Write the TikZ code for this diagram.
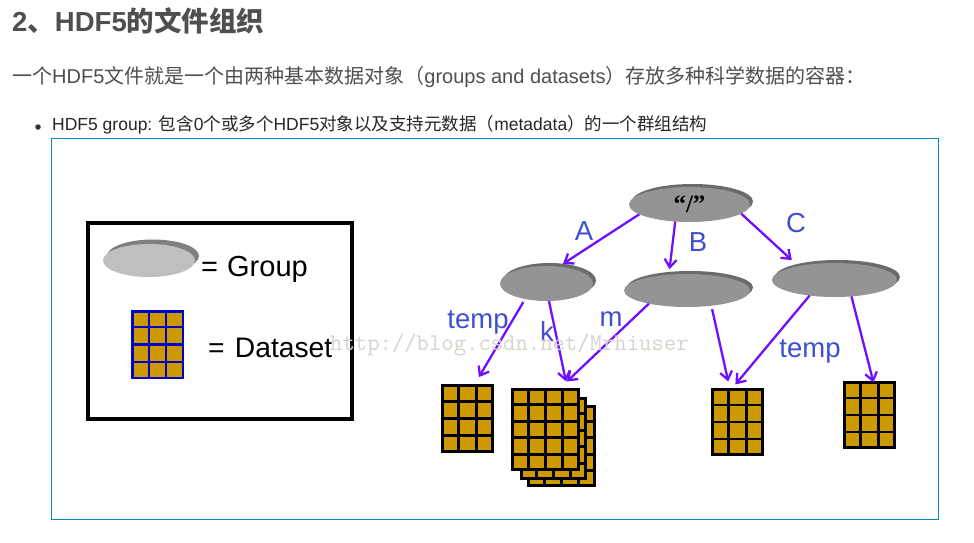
\documentclass[tikz,border=0pt]{standalone}
\usepackage{fontspec}
\setmainfont{Liberation Sans}
\newfontfamily\zhf{Noto Sans CJK SC}
\usetikzlibrary{arrows.meta,shapes.geometric}
\definecolor{gold}{HTML}{CC9900}
\definecolor{arrowviolet}{HTML}{7010FF}
\definecolor{labelblue}{HTML}{3F4FCF}
\definecolor{framecol}{HTML}{0A86C8}
\definecolor{headcol}{HTML}{4F4F4F}
\definecolor{wmark}{HTML}{D4D4CC}
\newcommand{\fsz}[1]{\fontsize{#1}{#1}\selectfont}
\tikzset{
  grp/.style={ellipse,inner sep=0pt,outer sep=0pt,fill=#1},
  arr/.style={draw=arrowviolet,line width=2.3pt,-{Straight Barb[length=8pt,width=12pt,line width=2.3pt]}},
  lab/.style={text=labelblue,inner sep=0pt,font=\fsz{27.5}},
  legtxt/.style={text=black,inner sep=0pt,anchor=base west},
}
% \groupnode{name}{cx}{cy}{rx}{ry}{front}{back}{dx}{dy}{text}
\newcommand{\groupnode}[9]{%
  \fill[#7] (#2+#8,#3-#9) ellipse [x radius=#4,y radius=#5];
  \node[grp=#6,minimum width=2*#4,minimum height=2*#5] (#1) at (#2,#3) {\groupText};
}
\newcommand{\groupText}{}
% \datasetnode{name}{x0}{y0}{x1}{y1}{cols}{rows}{line colour}{line width}
\newcommand{\datasetnode}[9]{%
  \pgfmathsetmacro{\dw}{(#4-#2-#9)}%
  \pgfmathsetmacro{\dh}{(#5-#3-#9)}%
  \node[rectangle,fill=gold,draw=#8,line width=#9pt,inner sep=0pt,outer sep=0pt,
        minimum width=\dw pt,minimum height=\dh pt] (#1) at ({(#2+#4)/2},{(#3+#5)/2}) {};
  \pgfmathtruncatemacro{\lastc}{#6-1}%
  \pgfmathtruncatemacro{\lastr}{#7-1}%
  \foreach \i in {1,...,\lastc}{
    \draw[#8,line width=#9pt*0.9] ({#2+(#4-#2)*\i/#6},#3) -- ({#2+(#4-#2)*\i/#6},#5);
  }
  \foreach \i in {1,...,\lastr}{
    \draw[#8,line width=#9pt*0.9] (#2,{#3+(#5-#3)*\i/#7}) -- (#4,{#3+(#5-#3)*\i/#7});
  }
}
\begin{document}
\begin{tikzpicture}[x=1pt,y=-1pt]
\path[use as bounding box,fill=white] (0,0) rectangle (974,543);

% page text
\node[anchor=base west,inner sep=0pt,text=headcol,font=\fsz{27.5}\bfseries] (title) at (12,32)
  {2{\zhf 、}HDF5{\zhf 的文件组织}};
\node[anchor=base west,inner sep=0pt,text=headcol,font=\fsz{20}] (intro) at (12,83)
  {{\zhf 一个}HDF5{\zhf 文件就是一个由两种基本数据对象（}groups and datasets{\zhf ）存放多种科学数据的容器：}};
\node[circle,fill=black!80,inner sep=0pt,minimum size=5.5pt] (bullet) at (38,127) {};
\node[anchor=base west,inner sep=0pt,text=black!85,font=\fsz{17.5}] (item) at (52,130)
  {HDF5 group: {\zhf 包含}0{\zhf 个或多个}HDF5{\zhf 对象以及支持元数据（}metadata{\zhf ）的一个群组结构}};

% image frame
\node[rectangle,draw=framecol,line width=1pt,inner sep=0pt,outer sep=0pt,minimum width=887pt,minimum height=381pt] (frame) at (495,329) {};

% legend
\node[rectangle,draw=black,line width=3.2pt,inner sep=0pt,outer sep=0pt,minimum width=264pt,minimum height=196pt] (legend) at (220,321) {};
\groupnode{leggroup}{149}{260.5}{46}{16.5}{black!25}{black!50}{4}{4.5}
\node[legtxt,font=\fsz{29}] (leggrouptxt) at (201,276) {= \kern1pt Group};
\datasetnode{legdata}{131}{310}{184}{379}{3}{4}{blue!80!black}{2.5}
\node[legtxt,font=\fsz{28.2}] (legdatatxt) at (208,357) {= \kern2.5pt Dataset};

% groups
\renewcommand{\groupText}{\raisebox{-2pt}{\fsz{25}\fontspec{Liberation Serif}\bfseries “/”}}
\groupnode{root}{689.5}{204.5}{60.5}{17.5}{black!42}{black!58}{3}{3}
\renewcommand{\groupText}{}
\groupnode{ga}{546.5}{283.5}{46.5}{17.5}{black!42}{black!58}{3}{3}
\groupnode{gb}{687}{290.5}{63}{16.5}{black!42}{black!58}{3}{3}
\groupnode{gc}{834.5}{280}{62.5}{17}{black!42}{black!58}{3}{3}

% datasets
\datasetnode{dsa}{441}{384}{494}{453}{3}{4}{black}{3}
\datasetnode{kback}{527}{405}{596}{487}{4}{5}{black}{3}
\datasetnode{kmid}{520}{397}{587}{480}{4}{5}{black}{3}
\datasetnode{kfront}{511}{388}{580}{471}{4}{5}{black}{3}
\datasetnode{dsb}{711}{388}{764}{456}{3}{4}{black}{3}
\datasetnode{dsc}{843}{381}{896}{449}{3}{4}{black}{3}

% connectors
\draw[arr,shorten >=5pt] (root.191) -- (ga.54);
\draw[arr,shorten >=5.5pt] (root.230) -- (gb.139.5);
\draw[arr,shorten >=8.9pt] (root.-10) -- (gc.159);
\draw[arr,shorten <=3.5pt,shorten >=9.7pt] (ga.216.8) -- (dsa.79.3);
\draw[arr,shorten >=8.2pt] (ga.278) -- (kfront.61.9);
\draw[arr,shorten >=11.6pt] (gb.199) -- (kfront.72.5);
\draw[arr,shorten <=3.5pt,shorten >=8.2pt] (gb.-32.3) -- (dsb.103.2);
\draw[arr,shorten >=6.6pt] (gc.212.4) -- (dsb.101.3);
\draw[arr] (gc.-44) -- (dsc.83.5);

% connector labels
\node[lab] (la) at (584,231) {A};
\node[lab] (lb) at (698,242) {B};
\node[lab] (lc) at (796,223) {C};
\node[lab] (ltemp) at (478,322) {temp};
\node[lab] (lk) at (547,332) {k};
\node[lab] (lm) at (611,319) {m};
\node[lab] (ltempb) at (810,351) {temp};

% watermark
\node[anchor=base west,inner sep=0pt,text=wmark,font=\ttfamily\fsz{24}] (wm) at (330,350) {http://blog.csdn.net/Mrhiuser};
\end{tikzpicture}
\end{document}
